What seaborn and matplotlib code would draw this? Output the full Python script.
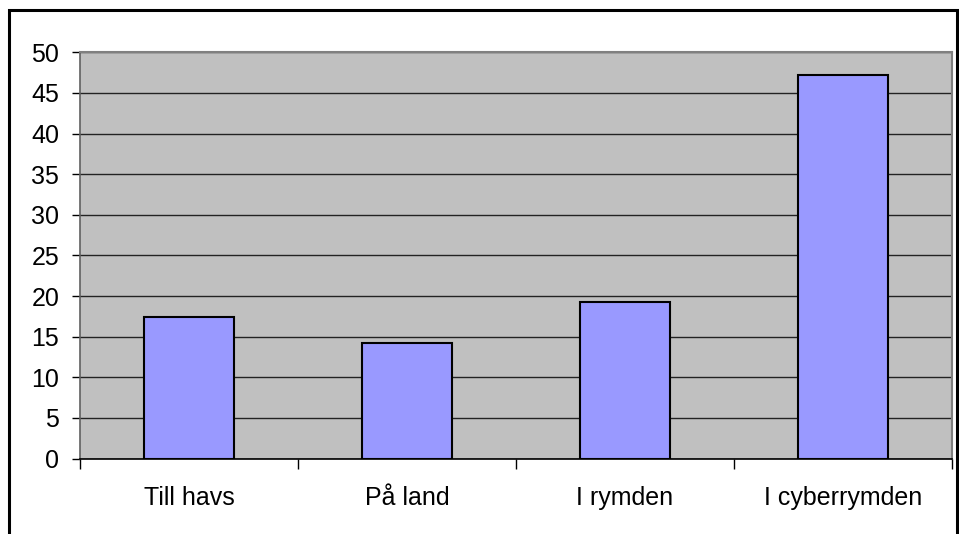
import matplotlib
matplotlib.use("Agg")
import matplotlib.pyplot as plt
import seaborn as sns
import pandas as pd
from matplotlib.patches import Rectangle

categories = ["Till havs", "På land", "I rymden", "I cyberrymden"]
values = [17.45, 14.25, 19.25, 47.2]
yticks = [0, 5, 10, 15, 20, 25, 30, 35, 40, 45, 50]

sns.set_theme(style="white")
plt.rcParams['font.family'] = ['Liberation Sans', 'DejaVu Sans']

df = pd.DataFrame({"cat": categories, "val": values})

fig = plt.figure(figsize=(9.59, 5.34), dpi=100)
W, H = 959, 534
ax = fig.add_axes([80 / W, 1 - 458.5 / H, (952 - 80) / W, (458.5 - 52.3) / H])

sns.barplot(data=df, x="cat", y="val", color="#9999FF", saturation=1,
            edgecolor="black", linewidth=1.5, width=0.41, ax=ax, zorder=3)

ax.set_facecolor("#C0C0C0")
ax.set_ylim(0, 50)
ax.set_xlim(-0.5, 3.5)
ax.set_yticks(yticks)
ax.set_yticklabels([str(v) for v in yticks])
ax.yaxis.grid(True, color="#222222", linewidth=1.0, zorder=0)
ax.set_axisbelow(True)
ax.set_xlabel("")
ax.set_ylabel("")

# x ticks at category boundaries, labels at centers
ax.set_xticks([-0.5, 0.5, 1.5, 2.5, 3.5], minor=False)
ax.set_xticklabels([])
ax.set_xticks([0, 1, 2, 3], minor=True)
ax.set_xticklabels(categories, minor=True)
ax.tick_params(axis="x", which="major", direction="out", length=7, width=1, color="black", bottom=True)
ax.tick_params(axis="x", which="minor", length=0, pad=20, labelsize=18, labelcolor="black", bottom=True)
ax.tick_params(axis="y", direction="out", length=6, width=1, color="black", left=True, pad=9,
               labelsize=18, labelcolor="black")

for s in ["top", "right"]:
    ax.spines[s].set_color("#808080")
    ax.spines[s].set_linewidth(1.5)
ax.spines["left"].set_color("#606060")
ax.spines["left"].set_linewidth(1.2)
ax.spines["bottom"].set_color("black")
ax.spines["bottom"].set_linewidth(1.2)

# outer chart border (bottom edge lies outside the image)
border = Rectangle((8.5 / W, -0.1), (957 - 8.5) / W, 1.1 - 10 / H,
                   transform=fig.transFigure, fill=False, edgecolor="black",
                   linewidth=2.2, clip_on=False)
fig.patches.append(border)

fig.savefig("out.png", dpi=100, facecolor="white")
